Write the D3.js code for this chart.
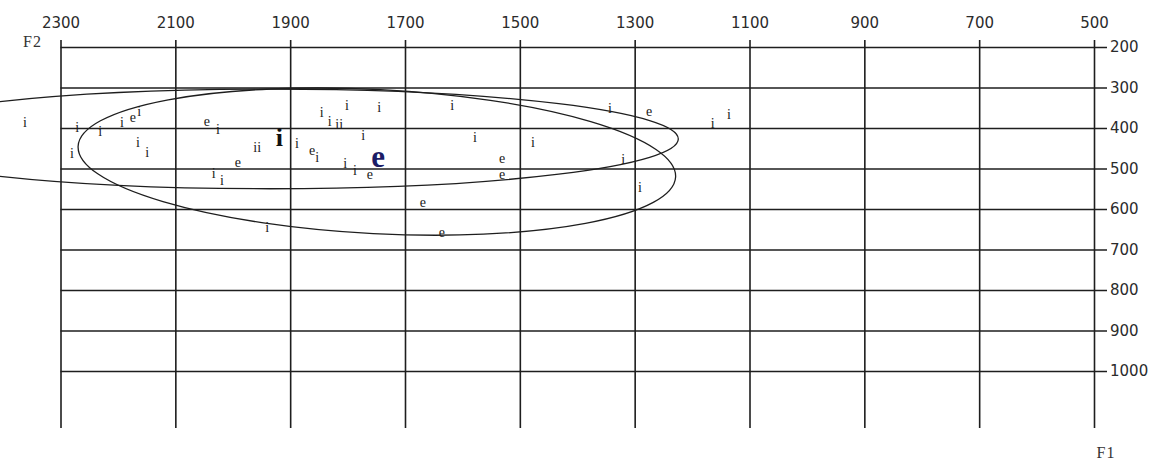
<!doctype html>
<html>

<head>
  <title>F1 / F2 vowel chart</title>
  <style>
    body { margin: 0; background: #fff; }
    svg { display: block; }
    .tick text { font-family: "DejaVu Sans", Verdana, sans-serif; font-size: 15px; fill: #2b2b2b; }
    .tick line { stroke: #1e1e1e; stroke-width: 1.6; }
    .token { font-family: "Liberation Serif", "Times New Roman", serif; font-size: 14px; fill: #1a1a1a; text-anchor: middle; }
    .axis-name { font-family: "Liberation Serif", "Times New Roman", serif; font-size: 16px; fill: #333; letter-spacing: 1px; }
  </style>
</head>

<body>
  <svg></svg>
  <script src="https://cdnjs.cloudflare.com/ajax/libs/d3/7.8.5/d3.min.js"></script>
  <script>
  // axis ticks
  var f2Ticks = [2300, 2100, 1900, 1700, 1500, 1300, 1100, 900, 700, 500];
  var f1Ticks = [200, 300, 400, 500, 600, 700, 800, 900, 1000];

  // single tokens
  var tokenVowel = ["i", "i", "i", "i", "e", "i", "i", "i", "i",
    "e", "i", "i", "i", "i", "e", "i", "e", "i", "i", "i",
    "i", "i", "i", "i", "i", "i", "i", "i", "i", "e",
    "i", "i", "i", "e", "e", "e", "e",
    "i", "e", "i", "i", "i", "i"];
  var tokenF2 = [2362, 2271, 2231, 2193, 2174, 2163, 2165, 2149, 2280,
    2045, 2026, 1961, 1954, 1888, 1862, 1853, 1991, 2033, 2019, 1940,
    1845, 1801, 1745, 1831, 1818, 1811, 1773, 1804, 1787, 1761,
    1618, 1578, 1477, 1531, 1531, 1669, 1636,
    1343, 1275, 1164, 1136, 1320, 1291];
  var tokenF1 = [385, 398, 407, 385, 378, 358, 435, 460, 462,
    388, 402, 447, 447, 437, 459, 472, 489, 511, 528, 644,
    360, 343, 348, 383, 390, 390, 417, 486, 504, 518,
    343, 422, 435, 478, 518, 588, 662,
    351, 363, 388, 365, 477, 546];

  // vowel means
  var meanVowel = ["i", "e"];
  var meanF2 = [1919, 1747];
  var meanF1 = [422, 479];

  // dispersion ellipses
  var ellipseF2 = [1935, 1749];
  var ellipseF1 = [427, 483];
  var ellipseRadF2 = [711, 521];
  var ellipseRadF1 = [123, 178];
  var ellipseTilt = [0, 2.95];

  var width = 1153, height = 460;

  var svg = d3.select("svg")
    .attr("width", width)
    .attr("height", height);

  var x = d3.scaleLinear().domain([2300, 500]).range([60.5, 1094]);
  var y = d3.scaleLinear().domain([200, 1000]).range([47, 371]);

  var gridTop = 40, gridBottom = 428, gridRight = 1107;

  // F2 across the top, lines drawn down the whole plot
  svg.append("g")
    .attr("transform", "translate(0," + gridTop + ")")
    .call(d3.axisTop(x)
      .tickValues(f2Ticks)
      .tickFormat(d3.format("d"))
      .tickSizeInner(-(gridBottom - gridTop))
      .tickSizeOuter(0)
      .tickPadding(12))
    .call(function(g) { g.select(".domain").remove(); });

  // F1 on the right, lines drawn across
  svg.append("g")
    .attr("transform", "translate(" + gridRight + ",0)")
    .call(d3.axisRight(y)
      .tickValues(f1Ticks)
      .tickFormat(d3.format("d"))
      .tickSizeInner(-(gridRight - x(2300)))
      .tickSizeOuter(0)
      .tickPadding(3))
    .call(function(g) { g.select(".domain").remove(); })
    .selectAll("text").attr("text-anchor", "start");

  svg.append("text").attr("class", "axis-name")
    .attr("x", 23).attr("y", 47).text("F2");
  svg.append("text").attr("class", "axis-name")
    .attr("x", 1106).attr("y", 458).attr("text-anchor", "middle").text("F1");

  // ellipses
  svg.append("g").selectAll("ellipse")
    .data(ellipseF2)
    .enter().append("ellipse")
    .attr("cx", function(d) { return x(d); })
    .attr("cy", function(d, i) { return y(ellipseF1[i]); })
    .attr("rx", function(d, i) { return Math.abs(x(d - ellipseRadF2[i]) - x(d)); })
    .attr("ry", function(d, i) { return y(ellipseF1[i] + ellipseRadF1[i]) - y(ellipseF1[i]); })
    .attr("transform", function(d, i) {
      return "rotate(" + ellipseTilt[i] + "," + x(d) + "," + y(ellipseF1[i]) + ")";
    })
    .style("fill", "none")
    .style("stroke", "#1e1e1e")
    .style("stroke-width", 1.3);

  // tokens
  svg.append("g").selectAll("text")
    .data(tokenVowel)
    .enter().append("text")
    .attr("class", "token")
    .attr("x", function(d, i) { return x(tokenF2[i]); })
    .attr("y", function(d, i) { return y(tokenF1[i]); })
    .attr("dy", function(d) { return d == "i" ? "0.34em" : "0.23em"; })
    .text(function(d) { return d; });

  // means, bigger
  svg.append("g").selectAll("text")
    .data(meanVowel)
    .enter().append("text")
    .attr("class", "token")
    .attr("x", function(d, i) { return x(meanF2[i]); })
    .attr("y", function(d, i) { return y(meanF1[i]); })
    .attr("dy", function(d) { return d == "i" ? "0.34em" : "0.23em"; })
    .style("font-size", function(d) { return d == "i" ? "26px" : "31px"; })
    .style("font-weight", "bold")
    .style("fill", function(d) { return d == "e" ? "#1c1c66" : "#111"; })
    .text(function(d) { return d; });
  </script>
</body>

</html>
